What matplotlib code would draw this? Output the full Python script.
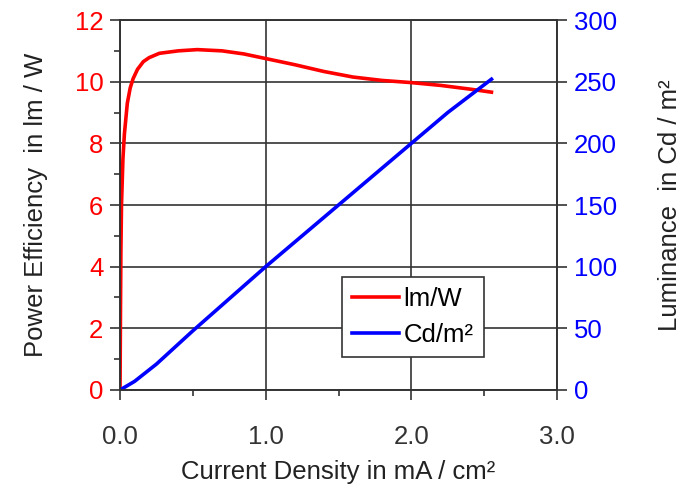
import numpy as np
import matplotlib
matplotlib.use("Agg")
from matplotlib import pyplot as plt
from matplotlib.ticker import MultipleLocator

plt.rcParams['font.family'] = ['Liberation Sans', 'DejaVu Sans']

# power efficiency (lm/W) vs current density (mA/cm2)
eff_x = [0.0, 0.003, 0.006, 0.01, 0.02, 0.03, 0.05, 0.07, 0.09, 0.12, 0.16, 0.2, 0.27,
         0.4, 0.53, 0.7, 0.85, 1.0, 1.2, 1.4, 1.6, 1.8, 2.0, 2.2, 2.4, 2.55]
eff_y = [0.0, 2.5, 4.5, 6.0, 7.5, 8.3, 9.3, 9.8, 10.1, 10.4, 10.65, 10.78, 10.92,
         11.0, 11.04, 11.0, 10.9, 10.75, 10.55, 10.33, 10.15, 10.04, 9.97, 9.88, 9.76, 9.66]

# luminance (cd/m2) vs current density
lum_x = [0.0, 0.1, 0.25, 0.5, 0.75, 1.0, 1.25, 1.5, 1.75, 2.0, 2.25, 2.55]
lum_y = [0, 7, 21, 48, 74, 100, 125, 150, 175, 200, 225, 252]

fs = 18.5

fig = plt.figure(figsize=(6.91, 4.98), dpi=100)
ax = fig.add_axes([0.1737, 0.2169, 0.6324, 0.7429])
ax2 = ax.twinx()

l1, = ax.plot(eff_x, eff_y, color="#ff0000", lw=2.6, label="lm/W")
l2, = ax2.plot(lum_x, lum_y, color="#0000ff", lw=2.6, label="Cd/m²")

ax.set_xlim(0, 3)
ax.set_ylim(0, 12)
ax2.set_ylim(0, 300)
ax.xaxis.set_major_locator(MultipleLocator(1))
ax.xaxis.set_minor_locator(MultipleLocator(0.5))
ax.yaxis.set_major_locator(MultipleLocator(2))
ax.yaxis.set_minor_locator(MultipleLocator(1))
ax2.yaxis.set_major_locator(MultipleLocator(50))
ax.set_xticklabels([f"{v:.1f}" for v in ax.get_xticks()])

ax.grid(True, which="major", color="#333333", lw=1.2)
ax.tick_params(which="both", direction="out", color="#333333", width=1.2)
ax.tick_params(which="major", length=7)
ax.tick_params(which="minor", length=4)
ax.tick_params(axis="x", labelsize=fs, pad=18, labelcolor="#333333")
ax.tick_params(axis="y", labelsize=fs, labelcolor="#ff0000", pad=5)
ax2.tick_params(axis="y", labelsize=fs, labelcolor="#0000ff", direction="out",
                length=7, width=1.2, color="#333333", pad=5)

for a in (ax, ax2):
    for s in a.spines.values():
        s.set_color("#333333")
        s.set_linewidth(1.2)

ax.set_xlabel("Current Density in mA / cm²", fontsize=fs, labelpad=8, color="#222222")
ax.set_ylabel("Power Efficiency  in lm / W", fontsize=fs, labelpad=19, color="#222222")
ax2.set_ylabel("Luminance  in Cd / m²", fontsize=fs, labelpad=30, color="#222222")

leg = ax2.legend(handles=[l1, l2], loc="lower left", bbox_to_anchor=(0.508, 0.089),
                 fontsize=fs, fancybox=False, framealpha=1, edgecolor="#333333",
                 handlelength=1.8, handletextpad=0.2, borderpad=0.4, labelspacing=0.45,
                 borderaxespad=0)
leg.get_frame().set_linewidth(1.2)

fig.savefig("out.png", dpi=100)
